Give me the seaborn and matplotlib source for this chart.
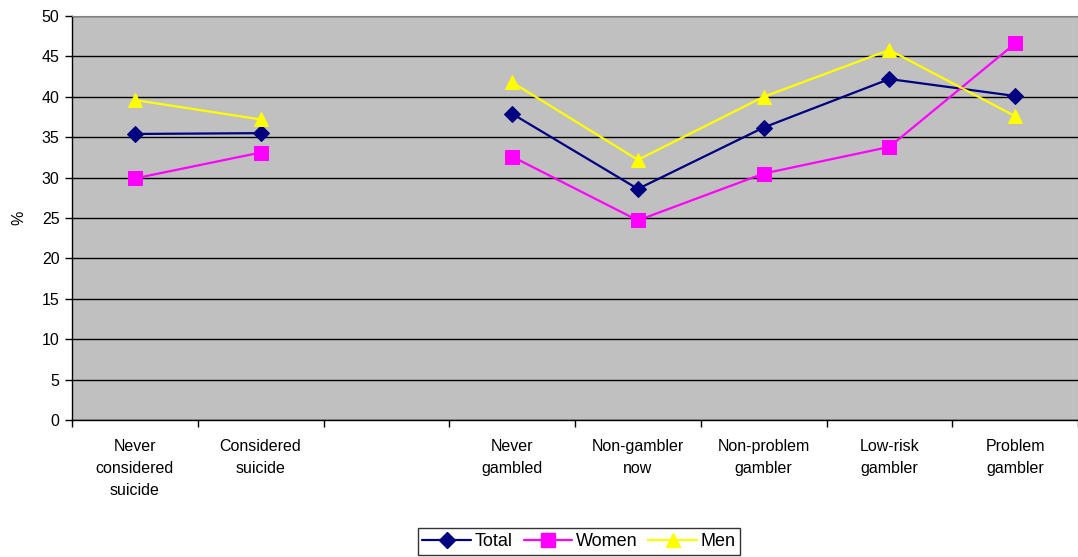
import matplotlib
matplotlib.use("Agg")
import matplotlib.pyplot as plt
from matplotlib.lines import Line2D
import seaborn as sns
import pandas as pd
import numpy as np

# Données (la 3e catégorie est vide)
categories = [
    "Never\nconsidered\nsuicide",
    "Considered\nsuicide",
    "",
    "Never\ngambled",
    "Non-gambler\nnow",
    "Non-problem\ngambler",
    "Low-risk\ngambler",
    "Problem\ngambler",
]
total = [35.4, 35.5, np.nan, 37.9, 28.6, 36.2, 42.2, 40.1]
women = [29.9, 33.1, np.nan, 32.6, 24.7, 30.5, 33.8, 46.6]
men = [39.6, 37.2, np.nan, 41.8, 32.2, 40.0, 45.8, 37.6]

series_names = ["Total", "Women", "Men"]
colors = {"Total": "#000080", "Women": "#FF00FF", "Men": "#FFFF00"}
markers = {"Total": "D", "Women": "s", "Men": "^"}
msizes = {"Total": 8, "Women": 9.5, "Men": 10}

# Mise en forme longue, avec un segment par bloc continu
rows = []
for name, vals in zip(series_names, [total, women, men]):
    seg = 0
    for i, v in enumerate(vals):
        if np.isnan(v):
            seg += 1
            continue
        rows.append({"pos": i, "value": v, "series": name, "segment": f"{name}_{seg}"})
df = pd.DataFrame(rows)

sns.set_style("white")
plt.rcParams['font.family'] = ['Liberation Sans', 'DejaVu Sans']
plt.rcParams['text.color'] = 'black'
plt.rcParams['xtick.color'] = 'black'
plt.rcParams['ytick.color'] = 'black'
plt.rcParams['axes.labelcolor'] = 'black'

fig = plt.figure(figsize=(10.78, 5.57), dpi=100)
ax = fig.add_axes([72 / 1078, 1 - 420 / 557, 1 - 72 / 1078, (420 - 16) / 557])
ax.set_facecolor("#C0C0C0")

for name in series_names:
    sub = df[df["series"] == name]
    for seg, part in sub.groupby("segment"):
        sns.lineplot(data=part, x="pos", y="value", ax=ax, color=colors[name],
                     marker=markers[name], markersize=msizes[name],
                     markeredgecolor=colors[name], linewidth=1.6, legend=False, zorder=3)

ax.set_xlim(-0.5, len(categories) - 0.5)
ax.set_ylim(0, 50)
ax.set_yticks(range(0, 51, 5))
ax.yaxis.grid(True, color="black", linewidth=1)
ax.set_axisbelow(True)

# ticks aux frontières, étiquettes au centre
ax.set_xticks(np.arange(-0.5, len(categories), 1.0))
ax.set_xticklabels([])
ax.set_xticks(range(len(categories)), minor=True)
ax.set_xticklabels(categories, minor=True, fontsize=11.5, linespacing=1.55)
ax.tick_params(axis="x", which="major", direction="out", length=5, width=1, color="black", bottom=True)
ax.tick_params(axis="x", which="minor", length=0, pad=14)
ax.tick_params(axis="y", direction="out", length=5, width=1, color="black", left=True, labelsize=11.5, pad=4)

ax.set_xlabel("")
ax.set_ylabel("%", fontsize=11.5, labelpad=11)

for s in ["left", "bottom"]:
    ax.spines[s].set_color("black")
    ax.spines[s].set_linewidth(1)
ax.spines["top"].set_color("#808080")
ax.spines["right"].set_color("#808080")

handles = [Line2D([0], [0], color=colors[n], marker=markers[n], markersize=msizes[n],
                  markeredgecolor=colors[n], linewidth=1.6, label=n) for n in series_names]
leg = fig.legend(handles=handles, loc="center", ncol=3,
                 bbox_to_anchor=(579 / 1078, 1 - 541.5 / 557),
                 frameon=True, fancybox=False, fontsize=13,
                 handlelength=2.7, columnspacing=0.6, handletextpad=0.2, borderpad=0.25,
                 borderaxespad=0)
leg.get_frame().set_edgecolor("black")
leg.get_frame().set_linewidth(1)

fig.savefig("out.png", dpi=100)
